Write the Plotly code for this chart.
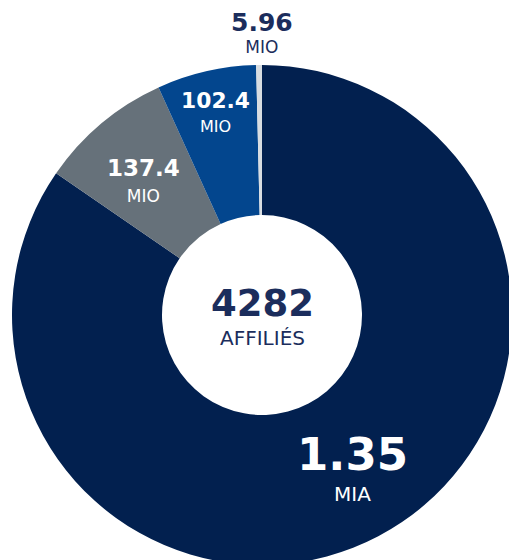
import plotly.graph_objects as go

# data (francs, millions)
categories = ["A", "B", "C", "D"]
values = [1350, 137.4, 102.4, 5.96]
value_labels = ["1.35", "137.4", "102.4", "5.96"]
unit_labels = ["MIA", "MIO", "MIO", "MIO"]
center_value = "4282"
center_label = "AFFILIÉS"

# styles
W, H = 514, 566
colors = ["#02204F", "#66717A", "#03468E", "#D8DDE1"]
num_sizes = [45, 23, 23, 25]
unit_sizes = [20, 17, 17, 17]
base_sizes = [24, 20, 19, 17]
text_colors = ["white", "white", "white", "#1B2D5C"]
NAVY = "#1B2D5C"
FONT = "DejaVu Sans"
# slices whose label is drawn by the pie itself vs. by annotation (pixel centres)
pie_text = [False, False, True, False]
ann_pos = {0: (352, 467), 1: (143, 180), 3: (262, 33)}
center_pos = (262, 316)


def label(i):
    return (f"<b><span style='font-size:{num_sizes[i]}px'>{value_labels[i]}</span></b>"
            f"<br><span style='font-size:{unit_sizes[i]}px'>{unit_labels[i]}</span>")


texts = [label(i) if pie_text[i] else "" for i in range(len(values))]

fig = go.Figure(
    go.Pie(
        labels=categories,
        values=values,
        text=texts,
        textinfo="text",
        textposition=["inside" if p else "none" for p in pie_text],
        insidetextorientation="horizontal",
        textfont=dict(family=FONT, color=text_colors, size=base_sizes),
        marker=dict(colors=colors, line=dict(width=0)),
        hole=0.4,
        sort=False,
        direction="clockwise",
        rotation=0,
        showlegend=False,
        hoverinfo="label+value",
        domain=dict(x=[12 / W, 512 / W], y=[1 / H, 1 - 65 / H]),
    )
)

for i, (px, py) in ann_pos.items():
    fig.add_annotation(
        x=px / W, y=1 - py / H, xref="paper", yref="paper",
        text=label(i), showarrow=False,
        xanchor="center", yanchor="middle",
        font=dict(family=FONT, color=text_colors[i], size=base_sizes[i]),
    )

fig.add_annotation(
    x=center_pos[0] / W, y=1 - center_pos[1] / H, xref="paper", yref="paper",
    text=(f"<b><span style='font-size:37px'>{center_value}</span></b>"
          f"<br><span style='font-size:20px'>{center_label}</span>"),
    showarrow=False, xanchor="center", yanchor="middle",
    font=dict(family=FONT, color=NAVY, size=22),
)

fig.update_layout(
    width=W,
    height=H,
    margin=dict(l=0, r=0, t=0, b=0),
    paper_bgcolor="white",
    plot_bgcolor="white",
    font=dict(family=FONT),
)

fig.write_html(
    "out.html",
    config={"displayModeBar": False},
    post_script="document.body.style.margin='0';document.body.style.overflow='hidden';"
                "document.documentElement.style.overflow='hidden';",
)
